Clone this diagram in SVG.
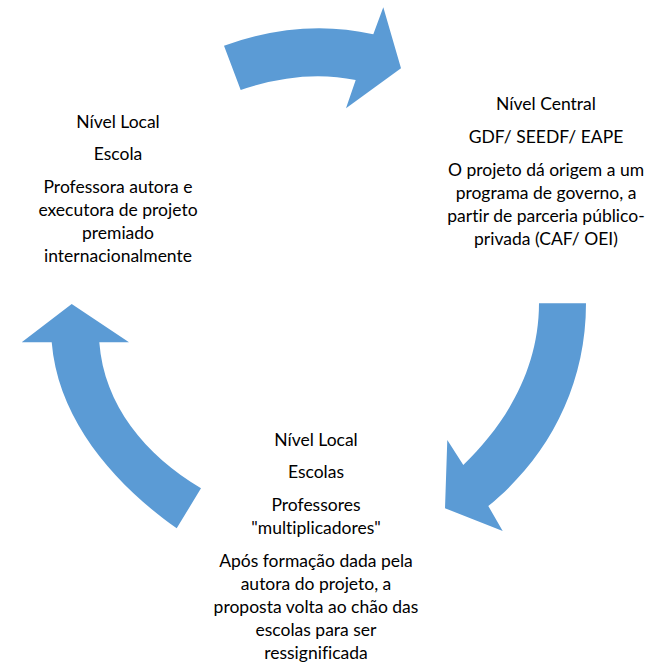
<svg xmlns="http://www.w3.org/2000/svg" width="646" height="666" viewBox="0 0 646 666">
<style>
.t{font-family:Lato,"Liberation Sans",sans-serif;font-size:17.5px;fill:#000;text-anchor:middle;font-variant-ligatures:none}
.arrow{fill:#5B9BD5;stroke:none}
</style>
<rect width="646" height="666" fill="#fff"/>
<g id="connectors">
<path class="arrow" d="M224,45.7 Q301,18 373.3,34.3 L383.3,7.3 L401,68.3 L346,108.3 L355.7,80 Q302,69 240.7,90 Z"/>
<path class="arrow" d="M539,303.3 L586,303.3 C586,390 545,460 488.3,506 L502.7,531 L445,508.3 L447.3,440 L463.3,465 C505,425 539,370 539,303.3 Z"/>
<path class="arrow" d="M71.7,304 L129,342.3 L99.3,342.3 C104,405 145,455 201,488.3 L176.7,528.3 C115,485 58,420 51.7,342.3 L21.7,342.3 Z"/>
</g>
<g id="node-local-escola">
<text class="t" x="118" y="128">Nível Local</text>
<text class="t" x="118" y="160">Escola</text>
<text class="t" x="118" y="193">Professora autora e</text>
<text class="t" x="118" y="216">executora de projeto</text>
<text class="t" x="118" y="239">premiado</text>
<text class="t" x="118" y="262">internacionalmente</text>
</g>
<g id="node-central">
<text class="t" x="546" y="110">Nível Central</text>
<text class="t" x="546" y="143">GDF/ SEEDF/ EAPE</text>
<text class="t" x="546" y="176">O projeto dá origem a um</text>
<text class="t" x="546" y="199">programa de governo, a</text>
<text class="t" x="546" y="222">partir de parceria público-</text>
<text class="t" x="546" y="245">privada (CAF/ OEI)</text>
</g>
<g id="node-local-escolas">
<text class="t" x="316" y="446">Nível Local</text>
<text class="t" x="316" y="478">Escolas</text>
<text class="t" x="316" y="511">Professores</text>
<text class="t" x="316" y="534">"multiplicadores"</text>
<text class="t" x="316" y="567">Após formação dada pela</text>
<text class="t" x="316" y="590">autora do projeto, a</text>
<text class="t" x="316" y="613">proposta volta ao chão das</text>
<text class="t" x="316" y="636">escolas para ser</text>
<text class="t" x="316" y="659">ressignificada</text>
</g>
</svg>
